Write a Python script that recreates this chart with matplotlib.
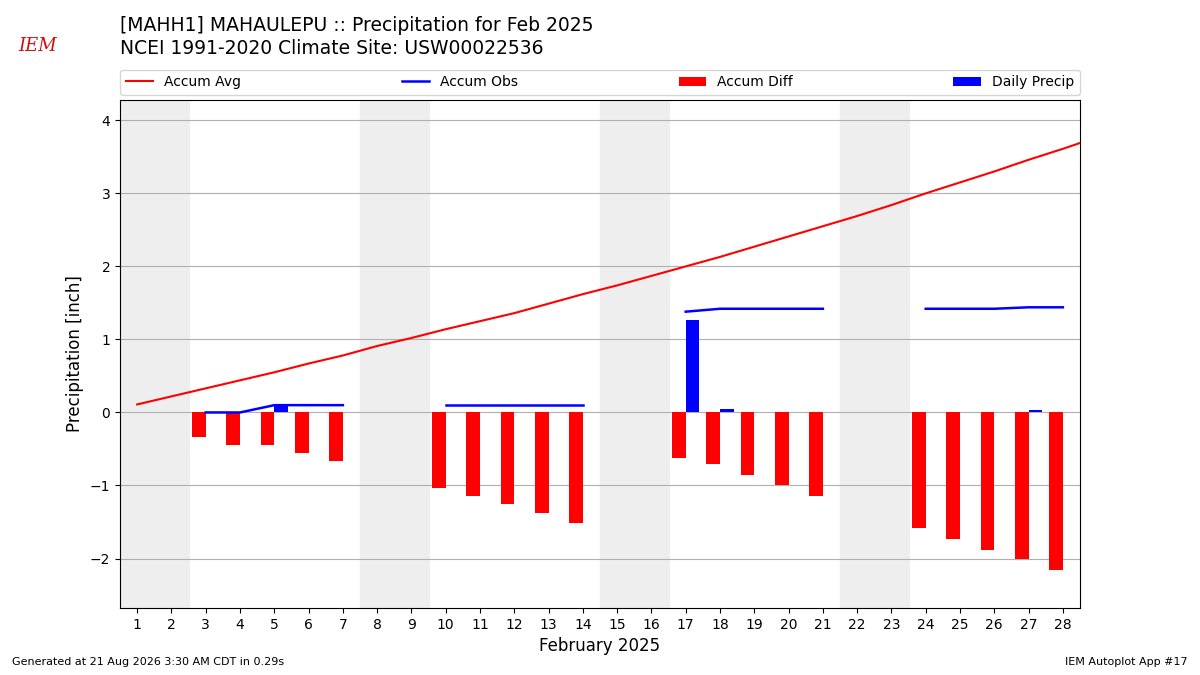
import matplotlib.pyplot as plt
import numpy as np

# accumulated climatology, Feb 1 .. Mar 1 (last point clipped at right edge)
avg_days = list(range(1, 30))
accum_avg = [0.11, 0.22, 0.33, 0.44, 0.55, 0.67, 0.78, 0.91, 1.02, 1.14,
             1.25, 1.36, 1.49, 1.62, 1.74, 1.87, 2.00, 2.13, 2.27, 2.41,
             2.55, 2.69, 2.84, 3.00, 3.15, 3.30, 3.46, 3.61, 3.77]

# observed values, weekdays only (weekend days missing)
obs_days = [3, 4, 5, 6, 7, 10, 11, 12, 13, 14, 17, 18, 19, 20, 21,
            24, 25, 26, 27, 28]
accum_obs = [0.00, 0.00, 0.10, 0.10, 0.10,
             0.10, 0.10, 0.10, 0.10, 0.10,
             1.38, 1.42, 1.42, 1.42, 1.42,
             1.42, 1.42, 1.42, 1.44, 1.44]
accum_diff = [-0.33, -0.44, -0.44, -0.56, -0.67,
              -1.04, -1.14, -1.25, -1.38, -1.51,
              -0.62, -0.71, -0.85, -1.00, -1.14,
              -1.58, -1.73, -1.88, -2.01, -2.16]
daily_precip = [0.00, 0.00, 0.10, 0.00, 0.00,
                0.00, 0.00, 0.00, 0.00, 0.00,
                1.27, 0.05, 0.00, 0.00, 0.00,
                0.00, 0.00, 0.00, 0.03, 0.00]

weekends = [(1, 2), (8, 9), (15, 16), (22, 23)]

fig = plt.figure(figsize=(12, 6.75), dpi=100)
ax = fig.add_axes([0.1, 0.099, 0.8, 0.753])

for a, b in weekends:
    ax.axvspan(a - 0.5, b + 0.5, color="#eeeeee", zorder=0)

# obs line drawn in weekly segments so gaps stay empty
obs_x = np.array(obs_days, dtype=float)
obs_y = np.array(accum_obs)
breaks = np.where(np.diff(obs_x) > 1)[0] + 1
first = True
for seg_x, seg_y in zip(np.split(obs_x, breaks), np.split(obs_y, breaks)):
    ax.plot(seg_x, seg_y, color="b", lw=1.8, zorder=3,
            label="Accum Obs" if first else None)
    first = False

ax.plot(avg_days, accum_avg, color="r", lw=1.5, zorder=3, label="Accum Avg")
ax.bar(obs_days, accum_diff, width=-0.4, align="edge", color="r",
       zorder=2, label="Accum Diff")
ax.bar(obs_days, daily_precip, width=0.4, align="edge", color="b",
       zorder=2, label="Daily Precip")

ax.set_xlim(0.5, 28.5)
ax.set_ylim(-2.68, 4.28)
ax.set_xticks(range(1, 29))
ax.set_yticks(range(-2, 5))
ax.set_yticklabels(["\u22122", "\u22121", "0", "1", "2", "3", "4"])
ax.tick_params(labelsize=10)
ax.yaxis.grid(True, color="#b0b0b0", lw=0.8)
ax.set_axisbelow(True)
ax.set_xlabel("February 2025", fontsize=12)
ax.set_ylabel("Precipitation [inch]", fontsize=12)

handles, labels = ax.get_legend_handles_labels()
order = [labels.index(n) for n in ["Accum Avg", "Accum Obs", "Accum Diff", "Daily Precip"]]
ax.legend([handles[i] for i in order], [labels[i] for i in order],
          ncol=4, mode="expand", loc="lower left",
          bbox_to_anchor=(0, 1.01, 1, 0.05), fontsize=10, borderaxespad=0)

fig.text(0.1, 0.962, "[MAHH1] MAHAULEPU :: Precipitation for Feb 2025",
         fontsize=13.5, va="center")
fig.text(0.1, 0.928, "NCEI 1991-2020 Climate Site: USW00022536",
         fontsize=13.5, va="center")
fig.text(0.031, 0.932, "IEM", color="#d01010", fontsize=13,
         family="DejaVu Serif", style="italic", ha="center", va="center")

fig.text(0.01, 0.015, "Generated at 21 Aug 2026 3:30 AM CDT in 0.29s",
         fontsize=8)
fig.text(0.99, 0.015, "IEM Autoplot App #17", fontsize=8, ha="right")

fig.savefig("out.png")
